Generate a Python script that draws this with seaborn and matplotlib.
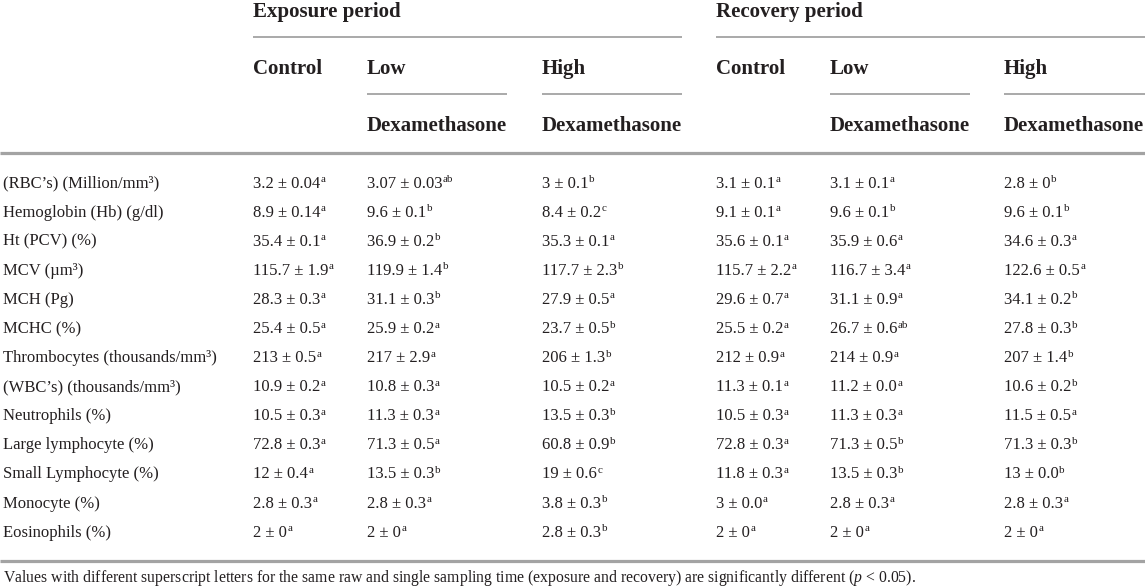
import matplotlib
matplotlib.use("Agg")
import matplotlib.pyplot as plt
import seaborn as sns

# -------------------- DATA --------------------
parameters = [
    "(RBC’s) (Million/mm³)",
    "Hemoglobin (Hb) (g/dl)",
    "Ht (PCV) (%)",
    "MCV (µm³)",
    "MCH (Pg)",
    "MCHC (%)",
    "Thrombocytes (thousands/mm³)",
    "(WBC’s) (thousands/mm³)",
    "Neutrophils (%)",
    "Large lymphocyte (%)",
    "Small Lymphocyte (%)",
    "Monocyte (%)",
    "Eosinophils (%)",
]

# exposure period
exp_control_mean = ["3.2", "8.9", "35.4", "115.7", "28.3", "25.4", "213", "10.9", "10.5", "72.8", "12", "2.8", "2"]
exp_control_sd = ["0.04", "0.14", "0.1", "1.9", "0.3", "0.5", "0.5", "0.2", "0.3", "0.3", "0.4", "0.3", "0"]
exp_control_sig = ["a", "a", "a", "a", "a", "a", "a", "a", "a", "a", "a", "a", "a"]

exp_low_mean = ["3.07", "9.6", "36.9", "119.9", "31.1", "25.9", "217", "10.8", "11.3", "71.3", "13.5", "2.8", "2"]
exp_low_sd = ["0.03", "0.1", "0.2", "1.4", "0.3", "0.2", "2.9", "0.3", "0.3", "0.5", "0.3", "0.3", "0"]
exp_low_sig = ["ab", "b", "b", "b", "b", "a", "a", "a", "a", "a", "b", "a", "a"]

exp_high_mean = ["3", "8.4", "35.3", "117.7", "27.9", "23.7", "206", "10.5", "13.5", "60.8", "19", "3.8", "2.8"]
exp_high_sd = ["0.1", "0.2", "0.1", "2.3", "0.5", "0.5", "1.3", "0.2", "0.3", "0.9", "0.6", "0.3", "0.3"]
exp_high_sig = ["b", "c", "a", "b", "a", "b", "b", "a", "b", "b", "c", "b", "b"]

# recovery period
rec_control_mean = ["3.1", "9.1", "35.6", "115.7", "29.6", "25.5", "212", "11.3", "10.5", "72.8", "11.8", "3", "2"]
rec_control_sd = ["0.1", "0.1", "0.1", "2.2", "0.7", "0.2", "0.9", "0.1", "0.3", "0.3", "0.3", "0.0", "0"]
rec_control_sig = ["a", "a", "a", "a", "a", "a", "a", "a", "a", "a", "a", "a", "a"]

rec_low_mean = ["3.1", "9.6", "35.9", "116.7", "31.1", "26.7", "214", "11.2", "11.3", "71.3", "13.5", "2.8", "2"]
rec_low_sd = ["0.1", "0.1", "0.6", "3.4", "0.9", "0.6", "0.9", "0.0", "0.3", "0.5", "0.3", "0.3", "0"]
rec_low_sig = ["a", "b", "a", "a", "a", "ab", "a", "a", "a", "b", "b", "a", "a"]

rec_high_mean = ["2.8", "9.6", "34.6", "122.6", "34.1", "27.8", "207", "10.6", "11.5", "71.3", "13", "2.8", "2"]
rec_high_sd = ["0", "0.1", "0.3", "0.5", "0.2", "0.3", "1.4", "0.2", "0.5", "0.3", "0.0", "0.3", "0"]
rec_high_sig = ["b", "b", "a", "a", "b", "b", "b", "b", "a", "b", "b", "a", "a"]

periods = ["Exposure period", "Recovery period"]
groups_top = ["Control", "Low", "High"]
groups_bottom = ["", "Dexamethasone", "Dexamethasone"]

footnote = ("Values with different superscript letters for the same raw and single sampling time "
            "(exposure and recovery) are significantly different ($\\it{p}$ < 0.05).")

columns = [
    (exp_control_mean, exp_control_sd, exp_control_sig),
    (exp_low_mean, exp_low_sd, exp_low_sig),
    (exp_high_mean, exp_high_sd, exp_high_sig),
    (rec_control_mean, rec_control_sd, rec_control_sig),
    (rec_low_mean, rec_low_sd, rec_low_sig),
    (rec_high_mean, rec_high_sd, rec_high_sig),
]

# -------------------- LAYOUT --------------------
sns.set_theme(style="white")
plt.rcParams["font.family"] = ["Liberation Serif", "DejaVu Serif"]
plt.rcParams["mathtext.fontset"] = "custom"
plt.rcParams["mathtext.rm"] = "Liberation Serif"
plt.rcParams["mathtext.it"] = "Liberation Serif:italic"

W, H = 1145, 586
fig = plt.figure(figsize=(W / 100, H / 100), dpi=100)
ax = fig.add_axes([0, 0, 1, 1])
ax.set_xlim(0, W)
ax.set_ylim(H, 0)
ax.axis("off")
renderer = fig.canvas.get_renderer()
inv = ax.transData.inverted()

col_x = [253, 367, 542, 716, 830, 1004]
period_x = [(253, 682), (716, 1145)]
sub_lines = [(367, 507), (542, 682), (830, 970), (1004, 1145)]
row_y0, row_step = 182, 29.1

body_fs = 12
sup_fs = 8
head_fs = 15
txt_col = "#231f20"
line_col = "#a3a3a3"

# header
for (x0, x1), name in zip(period_x, periods):
    ax.text(x0, 16.5, name, fontsize=head_fs, fontweight="bold", color=txt_col, va="baseline", ha="left")
    ax.plot([x0, x1], [37, 37], color=line_col, lw=1.3, solid_capstyle="butt")

for i, x in enumerate(col_x):
    g = i % 3
    ax.text(x, 74, groups_top[g], fontsize=head_fs, fontweight="bold", color=txt_col,
            va="baseline", ha="left")
    if groups_bottom[g]:
        ax.text(x, 131, groups_bottom[g], fontsize=head_fs, fontweight="bold", color=txt_col,
                va="baseline", ha="left")

for x0, x1 in sub_lines:
    ax.plot([x0, x1], [94, 94], color=line_col, lw=1.3, solid_capstyle="butt")

ax.plot([0, W], [153, 153], color=line_col, lw=2.3, solid_capstyle="butt")

# body rows
for r, label in enumerate(parameters):
    y = row_y0 + r * row_step + 5.5
    ax.text(3, y, label, fontsize=body_fs, color=txt_col, va="baseline", ha="left")
    for x, (means, sds, sigs) in zip(col_x, columns):
        t = ax.text(x, y, f"{means[r]} ± {sds[r]}", fontsize=body_fs, color=txt_col,
                    va="baseline", ha="left")
        x_end = inv.transform(t.get_window_extent(renderer))[1, 0]
        ax.text(x_end + 0.5, y - 5.5, sigs[r], fontsize=sup_fs, color=txt_col,
                va="baseline", ha="left")

ax.plot([0, W], [561, 561], color=line_col, lw=2.3, solid_capstyle="butt")

ax.text(3, 581.5, footnote, fontsize=11.3, color=txt_col, va="baseline", ha="left")

fig.savefig("out.png", dpi=100, facecolor="white")
